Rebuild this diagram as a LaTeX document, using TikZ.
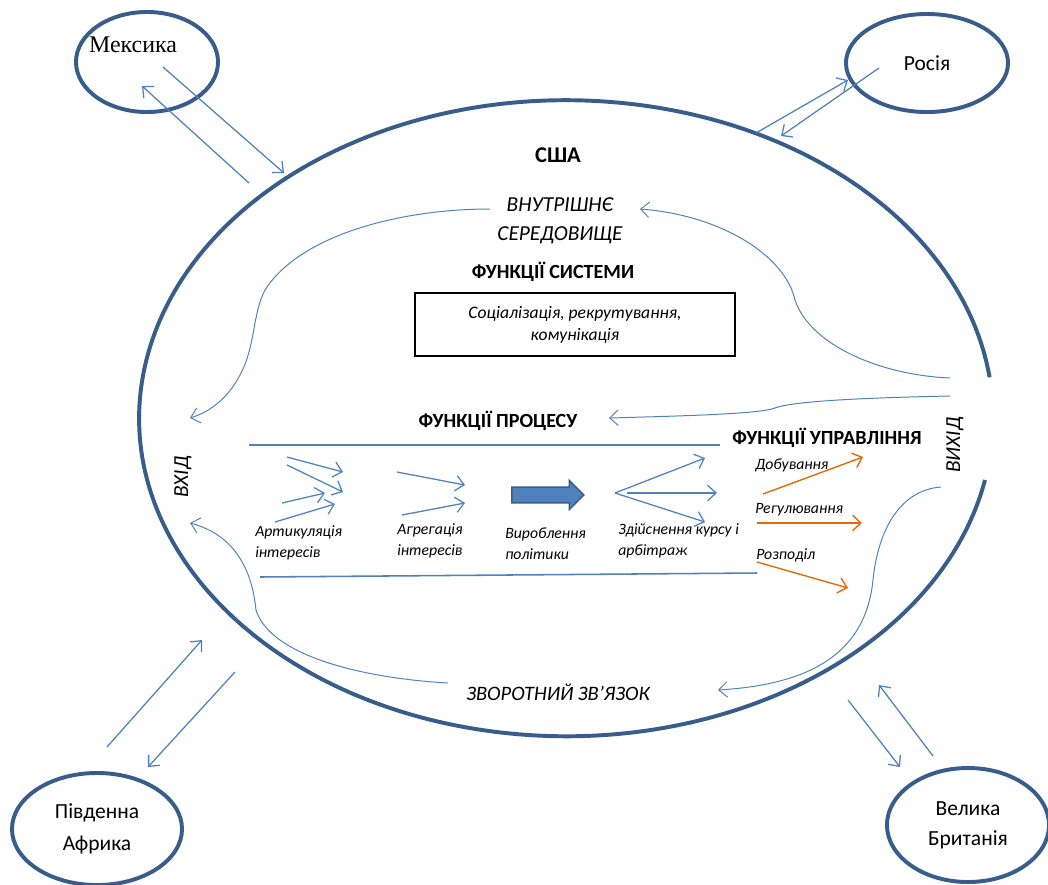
\documentclass[tikz,border=0pt]{standalone}
\usepackage{fontspec}
\setmainfont{Carlito}
\newfontfamily\timesfont{Liberation Serif}
\usetikzlibrary{arrows.meta,shapes.geometric,shapes.arrows}
\definecolor{temnosyn}{RGB}{56,93,138}
\definecolor{syn}{RGB}{79,129,189}
\definecolor{pomar}{RGB}{228,108,10}
\begin{document}
\begin{tikzpicture}[>={Straight Barb[length=6pt,width=11pt]},x=0.025cm,y=-0.025cm,
	krayina/.style={ellipse,draw=temnosyn,line width=2.8pt,inner sep=0pt,align=center,font=\fontsize{15.3}{22.5}\selectfont},
	strilka/.style={->,draw=syn,line width=0.9pt},
	kryva/.style={->,draw=syn,line width=0.7pt},
	pomarstr/.style={->,draw=pomar,line width=1pt},
	zag/.style={font=\bfseries\fontsize{14.3}{16}\selectfont},
	kurs/.style={font=\itshape\fontsize{15.2}{20.5}\selectfont,align=center},
	pidpys/.style={font=\itshape\fontsize{11.2}{15}\selectfont,align=left,anchor=west,inner sep=0pt}]
	\useasboundingbox (0,0) rectangle (1048,884);
	% Велике коло: США (розрив праворуч біля ВИХІД)
	\draw[temnosyn,line width=2.8pt] (985,480) arc[start angle=11.2,end angle=352.6,x radius=427,y radius=318];
	\node[zag,font=\bfseries\fontsize{16}{18}\selectfont] (usa) at (558,155) {США};
	
	% Інші країни
	\node[krayina,minimum width=3.55cm,minimum height=2.5cm] (mex) at (147,62) {};
	\node[font=\timesfont\fontsize{17}{18}\selectfont] (mext) at (133,45) {Мексика};
	\node[krayina,minimum width=4.05cm,minimum height=2.45cm] (ros) at (927,63) {Росія};
	\node[krayina,minimum width=4.25cm,minimum height=2.8cm] (afr) at (97,829) {Південна\\Африка};
	\node[krayina,minimum width=4.05cm,minimum height=2.85cm,font=\fontsize{15.3}{21.3}\selectfont] (brit) at (968,825) {Велика\\Британія};
	
	\coordinate (m1) at (163,67); \coordinate (m2) at (284,173);
	\coordinate (m3) at (249,183); \coordinate (m4) at (142,86);
	\coordinate (r1) at (756,133); \coordinate (r2) at (848,80);
	\coordinate (r3) at (879,68); \coordinate (r4) at (781,136);
	\coordinate (a1) at (107,747); \coordinate (a2) at (202,640);
	\coordinate (a3) at (235,672); \coordinate (a4) at (148,767);
	\coordinate (b1) at (848,700); \coordinate (b2) at (900,767);
	\coordinate (b3) at (933,756); \coordinate (b4) at (879,685);
	\draw[strilka] (m1)--(m2);
	\draw[strilka] (m3)--(m4);
	\draw[strilka] (r1)--(r2);
	\draw[strilka] (r3)--(r4);
	\draw[strilka] (a1)--(a2);
	\draw[strilka] (a3)--(a4);
	\draw[strilka] (b1)--(b2);
	\draw[strilka] (b3)--(b4);
	
	% Середовище і функції системи
	\node[kurs] (vnutr) at (560,221) {ВНУТРІШНЄ\\СЕРЕДОВИЩЕ};
	\node[zag] (fsys) at (553,272) {ФУНКЦІЇ СИСТЕМИ};
	\node[draw,line width=1.1pt,minimum width=8cm,minimum height=1.575cm,align=center,
		font=\itshape\fontsize{12.5}{15.6}\selectfont] (sots) at (575,324.5) {Соціалізація, рекрутування,\\комунікація};
	\node[zag] (fproc) at (498,421) {ФУНКЦІЇ ПРОЦЕСУ};
	\node[zag] (fupr) at (827,438) {ФУНКЦІЇ УПРАВЛІННЯ};
	\node[kurs,rotate=90] (vyhid) at (955,445) {ВИХІД};
	\node[kurs,rotate=90] (vhid) at (183,477) {ВХІД};
	\node[kurs,font=\itshape\fontsize{14.6}{18}\selectfont] (zvor) at (558,692) {ЗВОРОТНИЙ ЗВ’ЯЗОК};
	
	% Криві зворотного зв'язку
	\coordinate (k1) at (490,209); \coordinate (k2) at (190,418);
	\coordinate (k3) at (950,378); \coordinate (k4) at (640,209);
	\coordinate (k5) at (950,396); \coordinate (k6) at (609,418);
	\coordinate (k7) at (941,487); \coordinate (k8) at (718,690);
	\coordinate (k9) at (448,683); \coordinate (k10) at (190,523);
	\draw[kryva] (k1) .. controls (400,209) and (300,235) .. (265,290)
		.. controls (252,315) and (256,345) .. (240,375)
		.. controls (228,398) and (210,412) .. (k2);
	\draw[kryva] (k3) .. controls (880,375) and (810,345) .. (795,300)
		.. controls (785,255) and (720,215) .. (k4);
	\draw[kryva] (k5) .. controls (850,398) and (790,402) .. (775,408)
		.. controls (760,414) and (680,416) .. (k6);
	\draw[kryva] (k7) .. controls (900,490) and (878,530) .. (873,580)
		.. controls (865,660) and (800,685) .. (k8);
	\draw[kryva] (k9) .. controls (360,678) and (270,655) .. (256,610)
		.. controls (252,570) and (235,535) .. (k10);
	
	% Функції процесу
	\coordinate (l1) at (249,445); \coordinate (l2) at (720,445);
	\coordinate (l3) at (260,577); \coordinate (l4) at (757,573);
	\draw[syn,line width=1.1pt] (l1)--(l2);
	\draw[syn,line width=1.1pt] (l3)--(l4);
	
	\node[pidpys] (artyk) at (255,542.5) {Артикуляція\\інтересів};
	\node[pidpys] (agreg) at (397,540.5) {Агрегація\\інтересів};
	\node[pidpys] (vyrob) at (505,544) {Вироблення\\політики};
	\node[pidpys] (zdiysn) at (618,541) {Здійснення курсу і\\арбітраж};
	\node[pidpys] (dobuv) at (755,465) {Добування};
	\node[pidpys] (regul) at (755,510) {Регулювання};
	\node[pidpys] (rozpod) at (756,555) {Розподіл};
	
	\coordinate (p1) at (287,457); \coordinate (q1) at (343,472);
	\coordinate (p2) at (287,465); \coordinate (q2) at (343,492);
	\coordinate (p3) at (282,503); \coordinate (q3) at (325,493);
	\coordinate (p4) at (275,522); \coordinate (q4) at (335,504);
	\coordinate (p5) at (397,472); \coordinate (q5) at (465,485);
	\coordinate (p6) at (402,515); \coordinate (q6) at (465,503);
	\coordinate (p7) at (615,493); \coordinate (q7) at (705,458);
	\coordinate (p8) at (627,493); \coordinate (q8) at (717,493);
	\coordinate (q9) at (705,522);
	\foreach \i in {1,...,8}{
		\draw[strilka] (p\i)--(q\i);
	}
	\draw[strilka] (p7)--(q9);
	
	\node[single arrow,draw=temnosyn,fill=syn,line width=1pt,minimum height=1.8cm,
		inner sep=0.18cm,single arrow head extend=0.17cm] (polit) at (544,495) {};
	
	% Функції управління
	\coordinate (o1) at (763,494); \coordinate (o2) at (863,457);
	\coordinate (o3) at (757,523); \coordinate (o4) at (862,523);
	\coordinate (o5) at (757,562); \coordinate (o6) at (848,588);
	\draw[pomarstr] (o1)--(o2);
	\draw[pomarstr] (o3)--(o4);
	\draw[pomarstr] (o5)--(o6);
\end{tikzpicture}
\end{document}
